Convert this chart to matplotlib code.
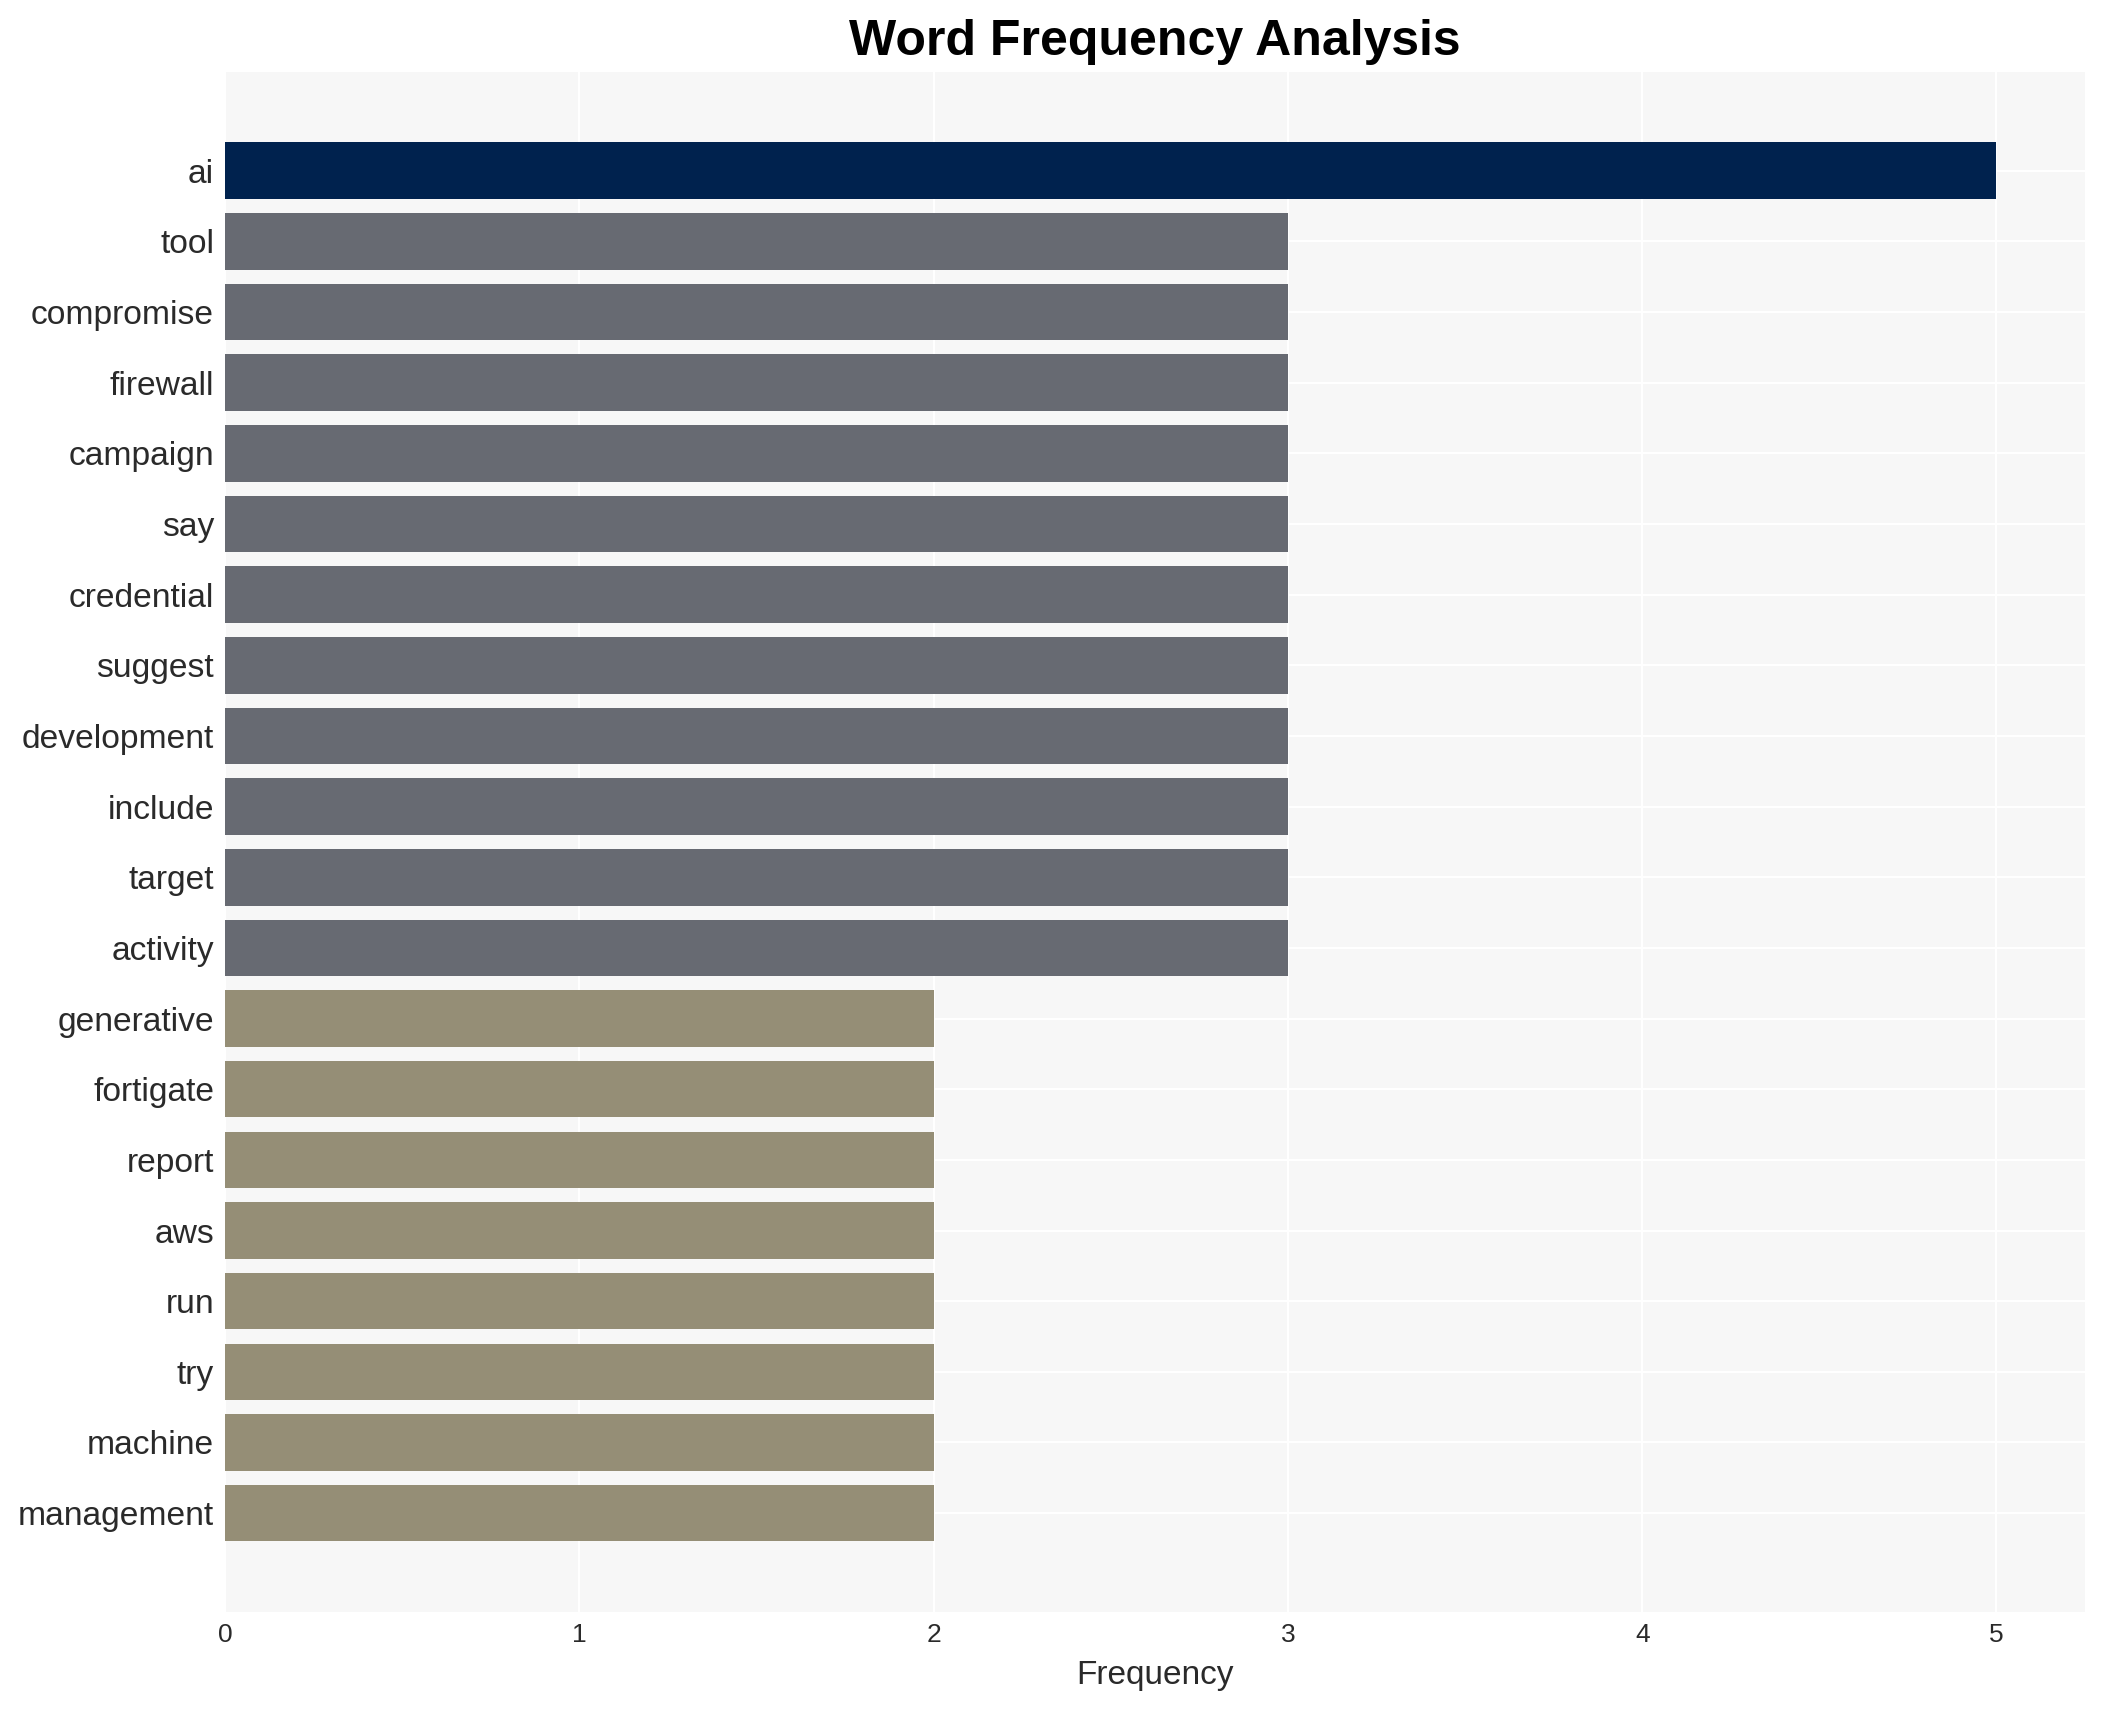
import matplotlib
matplotlib.use("Agg")
import matplotlib.pyplot as plt

# word counts, top to bottom
words = ["ai", "tool", "compromise", "firewall", "campaign", "say", "credential",
         "suggest", "development", "include", "target", "activity", "generative",
         "fortigate", "report", "aws", "run", "try", "machine", "management"]
counts = [5, 3, 3, 3, 3, 3, 3, 3, 3, 3, 3, 3, 2, 2, 2, 2, 2, 2, 2, 2]

# colour by count level
level_colors = {5: "#00224e", 3: "#676a72", 2: "#958e76"}
colors = [level_colors[c] for c in counts]

plt.rcParams['font.family'] = ['Liberation Sans', 'DejaVu Sans']

fig = plt.figure(figsize=(21.04, 17.10), dpi=100)
ax = fig.add_axes([0.107, 0.0573, 0.884, 0.9007])
ax.set_facecolor("#f7f7f7")

ypos = list(range(len(words)))
ax.barh(ypos, counts, height=0.8, color=colors, zorder=2)

ax.set_yticks(ypos)
ax.set_yticklabels(words)
ax.set_ylim(len(words) - 1 + 1.4, -1.4)
ax.set_xlim(0, 5.25)
ax.set_xticks([0, 1, 2, 3, 4, 5])

ax.grid(True, color="white", linewidth=1.5, zorder=1)
ax.set_axisbelow(True)
for s in ax.spines.values():
    s.set_visible(False)

ax.tick_params(axis="y", length=0, pad=8, labelsize=24.2, labelcolor="#2a2a2a")
ax.tick_params(axis="x", length=0, pad=8, labelsize=19, labelcolor="#2a2a2a")
ax.set_xlabel("Frequency", fontsize=24, color="#2a2a2a", labelpad=9)
ax.set_title("Word Frequency Analysis", fontsize=36, fontweight="bold", pad=12)

fig.savefig("out.png", dpi=100, facecolor="white")
